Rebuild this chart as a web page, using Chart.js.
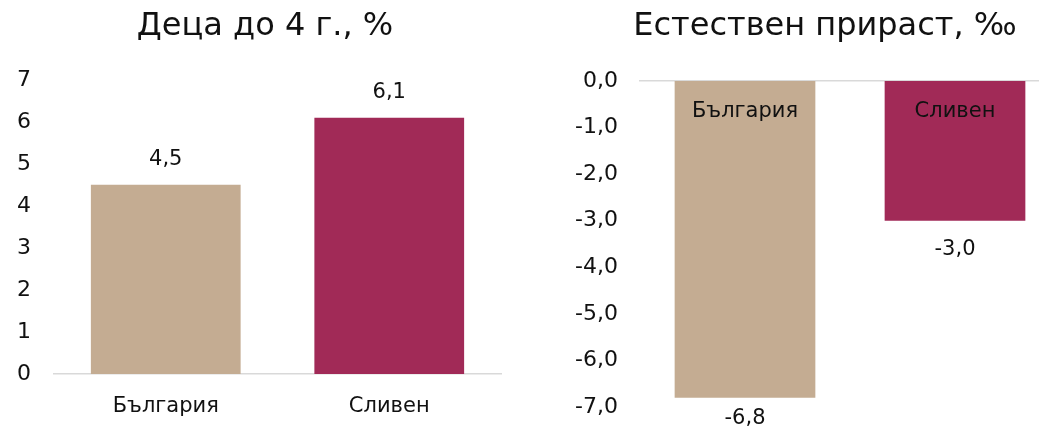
<!DOCTYPE html>
<html>
<head>
<meta charset="utf-8">
<script src="https://cdn.jsdelivr.net/npm/chart.js@4"></script>
<style>
  html, body { margin: 0; padding: 0; background: #fff; overflow: hidden; }
  body { width: 1039px; height: 428px; position: relative; }
  canvas { position: absolute; top: 0; }
  #kidsChart { left: 0; }
  #growthChart { left: 520px; }
</style>
</head>
<body>
<canvas id="kidsChart" width="530" height="428"></canvas>
<canvas id="growthChart" width="610" height="428"></canvas>
<script>
const categories = ['България', 'Сливен'];
const kidsShare = [4.5, 6.1];
const naturalGrowth = [-6.8, -3.0];
const barColors = ['#c4ac92', '#a12a57'];
const kidsTicks = [0, 7];
const growthTicks = [-7, 0];

const font = 'DejaVu Sans';
const textColor = '#111111';
const lineColor = '#d9d9d9';

function comma(v) {
  return v.toFixed(1).replace('.', ',').replace('-0,0', '0,0');
}

// fixed axis width; the end labels may hang over the plot edges
function fixedWidth(w) {
  return (scale) => {
    scale.width = w;
    scale.paddingTop = 0;
    scale.paddingBottom = 0;
  };
}

// empty right-hand axis, only to reserve room without moving the title
const spacerAxis = (w) => ({
  type: 'linear',
  position: 'right',
  ticks: { display: false },
  grid: { display: false },
  border: { display: false },
  afterFit: fixedWidth(w)
});

const kidsLabels = {
  id: 'kidsLabels',
  afterDatasetsDraw(chart) {
    const ctx = chart.ctx;
    const meta = chart.getDatasetMeta(0);
    ctx.save();
    ctx.font = `21px "${font}"`;
    ctx.fillStyle = textColor;
    ctx.textAlign = 'center';
    ctx.textBaseline = 'middle';
    meta.data.forEach((bar, i) => {
      ctx.fillText(comma(kidsShare[i]), bar.x, bar.y - 25);
    });
    ctx.restore();
  }
};

const growthLabels = {
  id: 'growthLabels',
  afterDatasetsDraw(chart) {
    const ctx = chart.ctx;
    const meta = chart.getDatasetMeta(0);
    ctx.save();
    ctx.font = `21px "${font}"`;
    ctx.fillStyle = textColor;
    ctx.textAlign = 'center';
    ctx.textBaseline = 'middle';
    meta.data.forEach((bar, i) => {
      ctx.fillText(categories[i], bar.x, bar.base + 31);
      const y = Math.min(bar.y + 29, chart.height - 9);
      ctx.fillText(comma(naturalGrowth[i]), bar.x, y);
    });
    ctx.restore();
  }
};

new Chart(document.getElementById('kidsChart'), {
  type: 'bar',
  data: {
    labels: categories,
    datasets: [{
      data: kidsShare,
      backgroundColor: barColors,
      barPercentage: 0.67,
      categoryPercentage: 1
    }]
  },
  options: {
    responsive: false,
    animation: false,
    devicePixelRatio: 1,
    layout: { padding: 0 },
    plugins: {
      legend: { display: false },
      tooltip: { enabled: false },
      title: {
        display: true,
        text: 'Деца до 4 г., %',
        color: textColor,
        font: { family: font, size: 32, weight: 'normal' },
        padding: { top: 7, bottom: 34.4 }
      }
    },
    scales: {
      x: {
        grid: { display: false, drawTicks: false },
        border: { display: true, color: lineColor, width: 1.5 },
        ticks: { color: textColor, font: { family: font, size: 21 }, padding: 20 },
        afterFit: (scale) => { scale.height = 54; }
      },
      y: {
        min: kidsTicks[0],
        max: kidsTicks[1],
        grid: { display: false, drawTicks: false },
        border: { display: false },
        ticks: { stepSize: 1, color: textColor, font: { family: font, size: 22 }, padding: 23 },
        afterFit: fixedWidth(54)
      },
      y2: spacerAxis(29)
    }
  },
  plugins: [kidsLabels]
});

new Chart(document.getElementById('growthChart'), {
  type: 'bar',
  data: {
    labels: categories,
    datasets: [{
      data: naturalGrowth,
      backgroundColor: barColors,
      barPercentage: 0.67,
      categoryPercentage: 1
    }]
  },
  options: {
    responsive: false,
    animation: false,
    devicePixelRatio: 1,
    layout: { padding: { bottom: 21 } },
    plugins: {
      legend: { display: false },
      tooltip: { enabled: false },
      title: {
        display: true,
        text: 'Естествен прираст, ‰',
        color: textColor,
        font: { family: font, size: 32, weight: 'normal' },
        padding: { top: 7, bottom: 35.6 }
      }
    },
    scales: {
      x: {
        position: 'top',
        grid: { display: false, drawTicks: false },
        border: { display: true, color: lineColor, width: 1.5 },
        ticks: { display: false },
        afterFit: (scale) => { scale.height = 0; }
      },
      y: {
        min: growthTicks[0],
        max: growthTicks[1],
        grid: { display: false, drawTicks: false },
        border: { display: false },
        ticks: {
          stepSize: 1,
          color: textColor,
          font: { family: font, size: 22 },
          padding: 22,
          callback: (v) => comma(v)
        },
        afterFit: fixedWidth(120)
      },
      y2: spacerAxis(70)
    }
  },
  plugins: [growthLabels]
});
</script>
</body>
</html>
